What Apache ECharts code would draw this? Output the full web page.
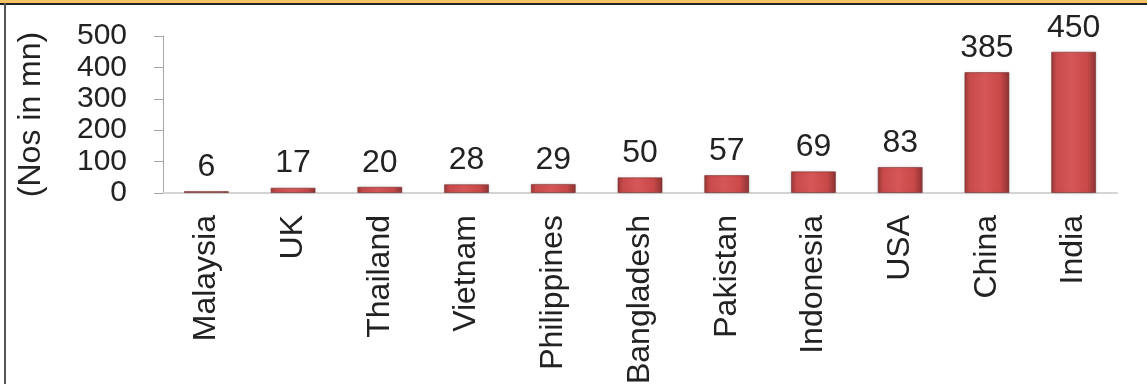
<!DOCTYPE html>
<html>
<head>
<meta charset="utf-8">
<script src="https://cdn.jsdelivr.net/npm/echarts@6/dist/echarts.min.js"></script>
<style>
  html, body { margin: 0; padding: 0; background: #fff; }
  .frame {
    position: relative;
    width: 1147px;
    height: 384px;
    box-sizing: border-box;
    border-top: 3px solid #f8c468;
    overflow: hidden;
  }
  .frame::before {
    content: '';
    position: absolute;
    left: 0; right: 0; top: 0;
    height: 2px;
    background: #222;
  }
  .frame::after {
    content: '';
    position: absolute;
    left: 4px; top: 0; bottom: 0;
    width: 2px;
    background: #555;
  }
  #chart { position: absolute; left: 0; top: -3px; width: 1147px; height: 384px; }
</style>
</head>
<body>
<div class="frame"><div id="chart"></div></div>
<script>
const countries = ['Malaysia', 'UK', 'Thailand', 'Vietnam', 'Philippines', 'Bangladesh', 'Pakistan', 'Indonesia', 'USA', 'China', 'India']
const users = [6, 17, 20, 28, 29, 50, 57, 69, 83, 385, 450]
const yTicks = [0, 100, 200, 300, 400, 500]

const font = 'Liberation Sans, Arial, sans-serif'
const textColor = '#222'
const fontSize = 32

const myChart = echarts.init(document.getElementById('chart'))

// cylinder-like bar fill
const barFill = new echarts.graphic.LinearGradient(0, 0, 1, 0, [
  { offset: 0, color: '#9a3838' },
  { offset: 0.12, color: '#c84a4a' },
  { offset: 0.45, color: '#d65757' },
  { offset: 0.8, color: '#c94848' },
  { offset: 1, color: '#8c3434' }
])

const option = {
  animation: false,
  grid: {
    left: 163,
    right: 30,
    top: 36,
    bottom: 191,
    containLabel: false,
    outerBoundsMode: 'none'
  },
  xAxis: {
    type: 'category',
    data: countries,
    axisLine: { lineStyle: { color: '#d4d4d4', width: 2 } },
    axisTick: { show: false },
    axisLabel: {
      rotate: 90,
      interval: 0,
      margin: 22,
      fontSize: fontSize,
      fontFamily: font,
      color: textColor
    }
  },
  yAxis: {
    type: 'value',
    min: yTicks[0],
    max: yTicks[yTicks.length - 1],
    interval: 100,
    name: '(Nos in mn)',
    nameLocation: 'middle',
    nameRotate: 90,
    nameGap: 116,
    nameTextStyle: { fontSize: fontSize, fontFamily: font, color: textColor },
    axisLine: { show: true, lineStyle: { color: '#a6a6a6' } },
    axisTick: { show: true, length: 9, lineStyle: { color: '#a6a6a6' } },
    splitLine: { show: false },
    axisLabel: {
      margin: 36,
      fontSize: 30,
      fontFamily: font,
      color: textColor
    }
  },
  series: [{
    type: 'bar',
    data: users,
    barWidth: 45,
    itemStyle: {
      color: barFill,
      borderColor: 'rgba(110,35,35,0.55)',
      borderWidth: 1,
      shadowColor: 'rgba(0,0,0,0.12)',
      shadowBlur: 4
    },
    label: {
      show: true,
      position: 'top',
      distance: 8,
      fontSize: fontSize,
      fontFamily: font,
      color: textColor
    }
  }]
}

myChart.setOption(option)
</script>
</body>
</html>
